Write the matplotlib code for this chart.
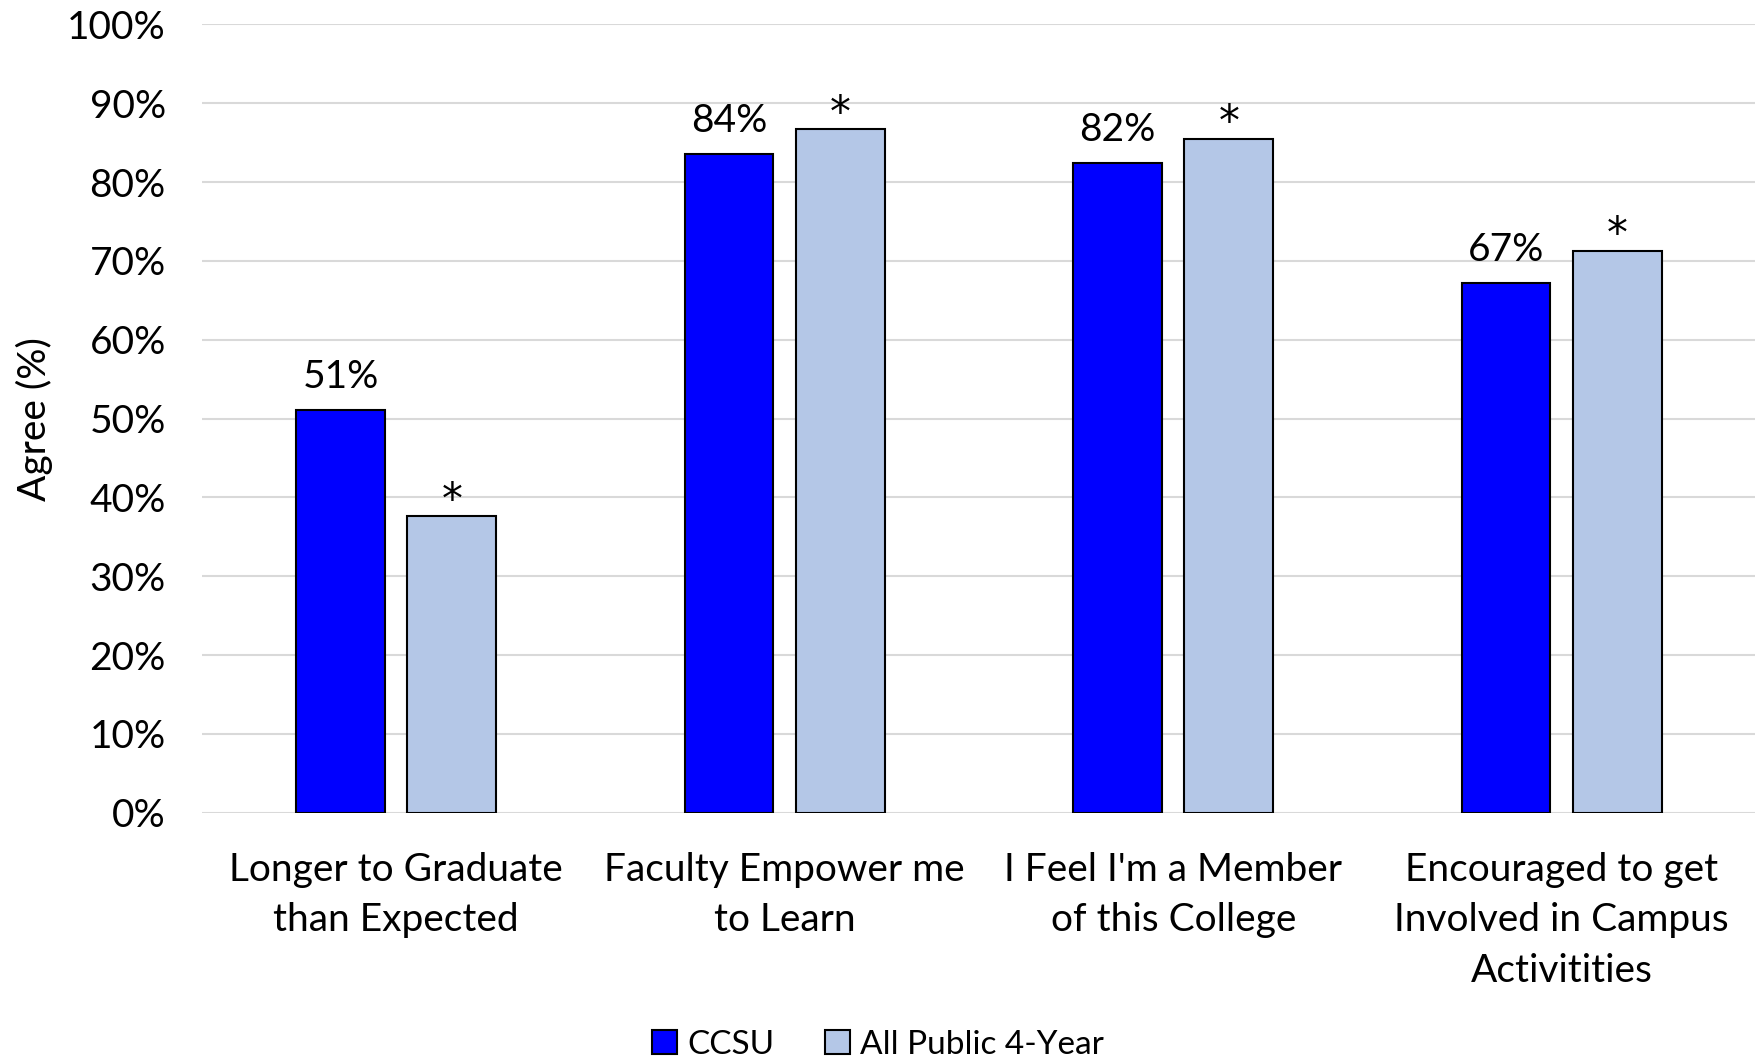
import matplotlib.pyplot as plt
import numpy as np

plt.rcParams['font.family'] = ['Lato', 'DejaVu Sans']

categories = ["Longer to Graduate\nthan Expected", "Faculty Empower me\nto Learn",
              "I Feel I'm a Member\nof this College", "Encouraged to get\nInvolved in Campus\nActivitities"]
ccsu = [51.1, 83.5, 82.4, 67.2]
all_public = [37.6, 86.7, 85.5, 71.3]
ccsu_labels = ["51%", "84%", "82%", "67%"]
all_labels = ["*", "*", "*", "*"]
series_names = ["CCSU", "All Public 4-Year"]

fig = plt.figure(figsize=(17.56, 10.61), dpi=100)
ax = fig.add_axes([0.115, 0.234, 0.885, 0.743])

x = np.arange(len(categories))
w = 0.228
off = 0.143
b1 = ax.bar(x - off, ccsu, w, color='#0000FF', edgecolor='black', linewidth=1.5, label=series_names[0], zorder=3)
b2 = ax.bar(x + off, all_public, w, color='#B4C7E7', edgecolor='black', linewidth=1.5, label=series_names[1], zorder=3)

for rect, lab in zip(b1, ccsu_labels):
    ax.annotate(lab, (rect.get_x() + rect.get_width() / 2, rect.get_height()),
                xytext=(0, 11), textcoords='offset points', ha='center', va='bottom', fontsize=28)
for rect, lab in zip(b2, all_labels):
    ax.annotate(lab, (rect.get_x() + rect.get_width() / 2, rect.get_height()),
                xytext=(0, -4), textcoords='offset points', ha='center', va='bottom', fontsize=30,
                family='DejaVu Sans')

ax.set_xlim(-0.5, 3.5)
ax.set_ylim(0, 100)
ax.set_yticks(np.arange(0, 101, 10))
ax.set_yticklabels([f"{v}%" for v in range(0, 101, 10)], fontsize=28)
ax.set_xticks(x)
ax.set_xticklabels(categories, fontsize=28, linespacing=1.5)
ax.tick_params(length=0)
ax.tick_params(axis='y', pad=26)
ax.tick_params(axis='x', pad=28)
ax.grid(axis='y', color='#d9d9d9', linewidth=1.5, zorder=0)
for s in ax.spines.values():
    s.set_visible(False)
ax.set_ylabel("Agree (%)", fontsize=28, labelpad=10)

fig.legend(loc='lower center', bbox_to_anchor=(0.5, -0.027), ncol=2, frameon=False, fontsize=24,
           handlelength=0.75, handleheight=0.75, handletextpad=0.3, columnspacing=1.5)

fig.savefig("out.png", dpi=100)
